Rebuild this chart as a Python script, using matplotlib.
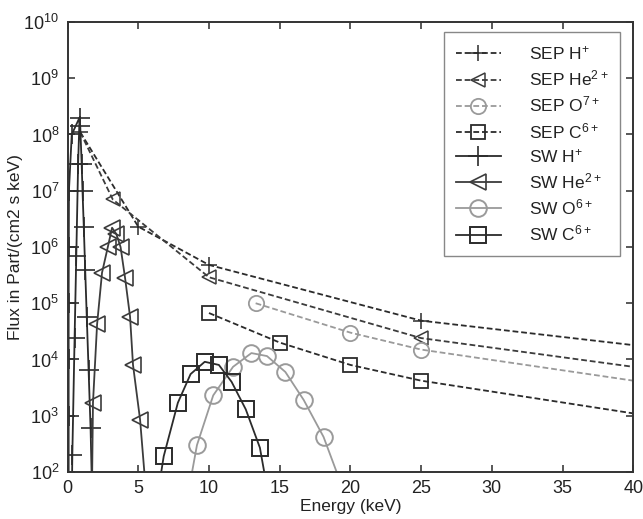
"""Solar wind vs SEP ion flux spectra, redrawn as a single log-scale panel."""

import matplotlib

matplotlib.use("Agg")
import matplotlib.pyplot as plt

plt.rcParams["font.family"] = ["Liberation Sans", "DejaVu Sans"]
plt.rcParams["mathtext.default"] = "regular"

# SEP spectra (energy in keV, flux in Part/(cm2 s keV)); last point sits on the x=40 edge
sep_h_energy = [0.9, 5.0, 10.0, 25.0, 40.0]
sep_h_flux = [1.1e8, 2.3e6, 4.8e5, 4.9e4, 1.8e4]
sep_he_energy = [0.9, 3.2, 10.0, 25.0, 40.0]
sep_he_flux = [1.1e8, 7.0e6, 2.9e5, 2.4e4, 7.4e3]
sep_o_energy = [13.3, 20.0, 25.0, 40.0]
sep_o_flux = [1.0e5, 3.0e4, 1.5e4, 4.2e3]
sep_c_energy = [10.0, 15.0, 20.0, 25.0, 40.0]
sep_c_flux = [6.7e4, 2.0e4, 8.0e3, 4.2e3, 1.1e3]

# solar wind distributions, listed in the order the curve is traced
sw_h_energy = [0.08, 0.08, 0.08, 0.08, 0.09, 0.1, 0.3, 0.85, 0.75, 0.62, 0.5,
               0.34, 0.3, 1.75, 1.63, 1.49, 1.36, 1.25, 1.15, 1.06, 1.0, 0.9]
sw_h_flux = [30, 1.0e3, 1.0e4, 1.0e5, 1.0e6, 1.0e7, 1.0e8, 2.0e8, 3.0e7, 7.0e5,
             2.4e4, 2.0e2, 30, 30, 6.0e2, 6.5e3, 5.8e4, 3.9e5, 2.3e6, 1.0e7,
             3.0e7, 1.4e8]
sw_he_energy = [1.72, 1.8, 2.09, 2.44, 2.85, 3.15, 3.45, 3.75, 4.07, 4.42, 4.63,
                5.13, 5.6]
sw_he_flux = [30, 1.7e3, 4.2e4, 3.5e5, 1.0e6, 2.2e6, 1.7e6, 1.0e6, 2.8e5, 5.8e4,
              8.0e3, 8.5e2, 30]
sw_o_energy = [8.3, 9.15, 10.3, 11.7, 13.0, 14.1, 15.4, 16.7, 18.1, 19.8]
sw_o_flux = [20, 3.0e2, 2.3e3, 7.4e3, 1.3e4, 1.15e4, 6.0e3, 1.9e3, 4.2e2, 30]
sw_c_energy = [6.3, 6.8, 7.8, 8.7, 9.7, 10.7, 11.6, 12.6, 13.6, 14.4]
sw_c_flux = [30, 1.9e2, 1.7e3, 5.5e3, 9.1e3, 8.0e3, 4.0e3, 1.3e3, 2.7e2, 20]

x_ticks = [0, 5, 10, 15, 20, 25, 30, 35, 40]
y_ticks = [1e2, 1e3, 1e4, 1e5, 1e6, 1e7, 1e8, 1e9, 1e10]

dark = "#2b2b2b"
mid = "#3c3c3c"
light = "#9a9a9a"
dash = (0, (3.2, 1.6))

fig = plt.figure(figsize=(6.43, 5.19), dpi=100)
ax = fig.add_axes([0.105, 0.0906, 0.88, 0.867])

common = dict(markerfacecolor="none", linewidth=1.3)

ax.plot(sep_h_energy, sep_h_flux, color=dark, linestyle=dash, marker="+",
        markersize=11, markeredgewidth=1.1, markevery=slice(0, -1),
        label="SEP H$^{+}$", **common)
ax.plot(sep_he_energy, sep_he_flux, color=mid, linestyle=dash, marker="<",
        markersize=10, markeredgewidth=1.1, markevery=slice(1, -1),
        label="SEP He$^{2+}$", **common)
ax.plot(sep_o_energy, sep_o_flux, color=light, linestyle=dash, marker="o",
        markersize=11, markeredgewidth=1.3, markevery=slice(0, -1),
        label="SEP O$^{7+}$", **common)
ax.plot(sep_c_energy, sep_c_flux, color=dark, linestyle=dash, marker="s",
        markersize=10, markeredgewidth=1.3, markevery=slice(0, -1),
        label="SEP C$^{6+}$", **common)

ax.plot(sw_h_energy, sw_h_flux, color=dark, linestyle="-", marker="+",
        markersize=14, markeredgewidth=1.2, label="SW H$^{+}$", **common)
ax.plot(sw_he_energy, sw_he_flux, color=mid, linestyle="-", marker="<",
        markersize=12, markeredgewidth=1.2, markevery=slice(1, -1),
        label="SW He$^{2+}$", **common)
ax.plot(sw_o_energy, sw_o_flux, color=light, linestyle="-", marker="o",
        markersize=12, markeredgewidth=1.4, markevery=slice(1, -1),
        label="SW O$^{6+}$", **common)
ax.plot(sw_c_energy, sw_c_flux, color=dark, linestyle="-", marker="s",
        markersize=11, markeredgewidth=1.4, markevery=slice(1, -1),
        label="SW C$^{6+}$", **common)

ax.set_yscale("log")
ax.set_xlim(0, 40)
ax.set_ylim(1e2, 1e10)
ax.set_xticks(x_ticks)
ax.set_yticks(y_ticks)
ax.minorticks_off()
ax.tick_params(direction="in", length=5, width=1.1, top=True, right=True,
               labelsize=13, color=dark, labelcolor="#222222", pad=6)
for spine in ax.spines.values():
    spine.set_color("#333333")
    spine.set_linewidth(1.4)

ax.set_xlabel("Energy (keV)", fontsize=12.5, color="#222222", labelpad=1)
ax.set_ylabel("Flux in Part/(cm2 s keV)", fontsize=12.5, color="#222222",
              labelpad=0)

legend = ax.legend(loc="upper right", bbox_to_anchor=(0.977, 0.977),
                   borderaxespad=0, fontsize=12.5, handlelength=2.6,
                   handletextpad=1.6, labelspacing=0.36, borderpad=0.7,
                   fancybox=False, framealpha=1, edgecolor="#888888")
for text in legend.get_texts():
    text.set_color("#222222")

fig.savefig("out.png", dpi=100)
